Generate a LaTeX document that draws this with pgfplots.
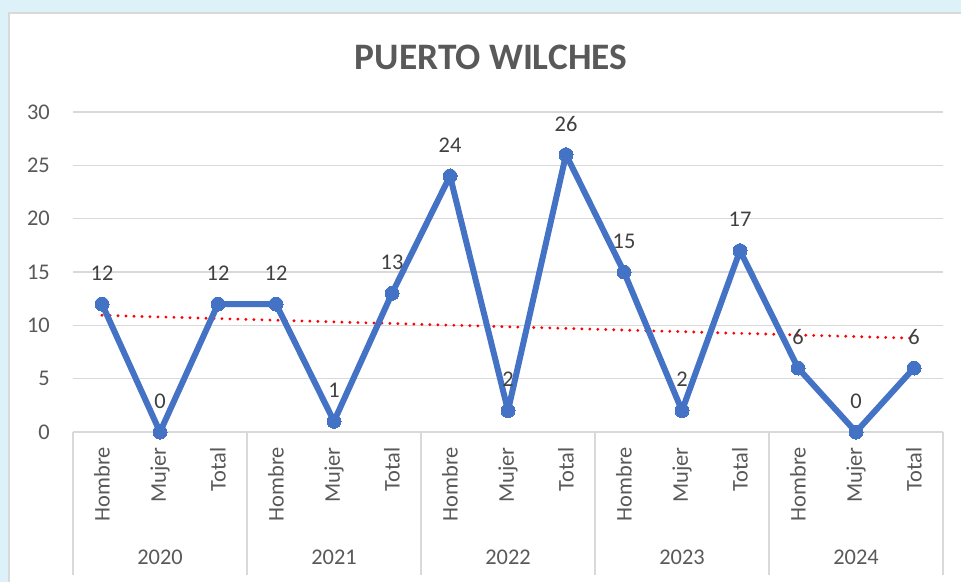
\documentclass[border=0pt]{standalone}
\usepackage{pgfplots}
\pgfplotsset{compat=1.18}
\usepackage{fontspec}
\setmainfont{Carlito}
\definecolor{bgcyan}{HTML}{DDF1F9}
\definecolor{gridgray}{HTML}{D9D9D9}
\definecolor{labelgray}{HTML}{595959}
\definecolor{datagray}{HTML}{404040}
\definecolor{lineblue}{HTML}{4472C4}
\begin{document}
\begin{tikzpicture}
% background and chart area
\fill[bgcyan] (-73bp,-150bp) rectangle (888bp,432bp);
\fill[white] (-64bp,-150bp) rectangle (888bp,419bp);
\draw[gridgray, line width=1.2bp] (-64bp,-150bp) -- (-64bp,419bp) -- (888bp,419bp);
\begin{axis}[
  at={(0,0)}, anchor=south west,
  scale only axis, width=870bp, height=320bp,
  xmin=-0.5, xmax=14.5, ymin=0, ymax=30,
  ytick={0,5,...,30},
  xtick={0,...,14},
  xticklabels={Hombre,Mujer,Total,Hombre,Mujer,Total,Hombre,Mujer,Total,Hombre,Mujer,Total,Hombre,Mujer,Total},
  axis line style={draw=none},
  tick style={draw=none},
  ymajorgrids,
  grid style={gridgray, line width=1.3bp},
  yticklabel style={font=\fontsize{22.5}{22.5}\selectfont, text=labelgray, anchor=east, inner sep=0pt},
  yticklabel shift=23bp,
  xticklabel style={font=\fontsize{22.5}{22.5}\selectfont, text=labelgray, rotate=90, anchor=east, inner sep=0pt},
  xticklabel shift=15bp,
  /pgf/number format/assume math mode=true,
  clip=false,
]
% x axis line and separators
\draw[gridgray, line width=1.3bp] (axis cs:-0.5,0) -- (axis cs:14.5,0);
\pgfplotsinvokeforeach{-0.5,2.5,5.5,8.5,11.5,14.5}{
  \draw[gridgray, line width=1.3bp] (axis cs:#1,0) -- ++(0pt,-143bp);
}
\node[font=\fontsize{22.5}{22.5}\selectfont, text=labelgray] at (axis cs:1,0) [yshift=-125bp] {2020};
\node[font=\fontsize{22.5}{22.5}\selectfont, text=labelgray] at (axis cs:4,0) [yshift=-125bp] {2021};
\node[font=\fontsize{22.5}{22.5}\selectfont, text=labelgray] at (axis cs:7,0) [yshift=-125bp] {2022};
\node[font=\fontsize{22.5}{22.5}\selectfont, text=labelgray] at (axis cs:10,0) [yshift=-125bp] {2023};
\node[font=\fontsize{22.5}{22.5}\selectfont, text=labelgray] at (axis cs:13,0) [yshift=-125bp] {2024};
% trend line
\addplot[red, line width=3.2bp, line cap=round, dash pattern=on 0pt off 8bp] coordinates {(0,10.94) (14,8.79)};
% data
\addplot[lineblue, line width=6bp, line join=round, mark=*, mark size=7bp, mark options={fill=lineblue, draw=lineblue, line width=0pt},
  nodes near coords, point meta=explicit symbolic,
  nodes near coords style={font=\fontsize{22.5}{22.5}\selectfont, text=datagray, anchor=center, yshift=31bp}]
  table[meta=v] {
x y v
0 12 12
1 0 0
2 12 12
3 12 12
4 1 1
5 13 13
6 24 24
7 2 2
8 26 26
9 15 15
10 2 2
11 17 17
12 6 6
13 0 0
14 6 6
};
\end{axis}
\node[font=\fontsize{37.5}{37.5}\selectfont\bfseries, text=labelgray] at (418bp,375bp) {PUERTO WILCHES};
\pgfresetboundingbox
\path (-73bp,-150bp) rectangle (888bp,432bp);
\end{tikzpicture}
\end{document}
